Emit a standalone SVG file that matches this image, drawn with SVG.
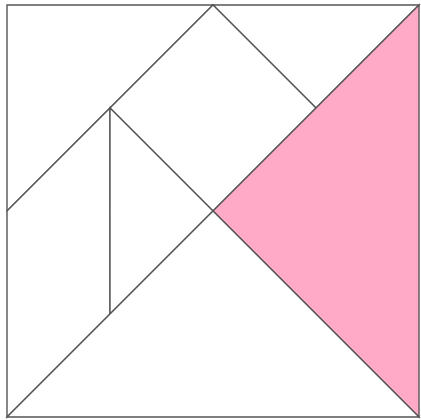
<svg xmlns="http://www.w3.org/2000/svg" width="421" height="420" viewBox="0 0 421 420">
<style>
.p{fill:#fff;stroke:#555;stroke-width:1.4;stroke-linejoin:miter}
.pink{fill:#ffabc8}
</style>
<rect x="0" y="0" width="421" height="420" fill="#fff"/>
<g id="tri-top-left"><polygon class="p" points="7,5 213,5 7,211"/></g>
<g id="tri-small-top"><polygon class="p" points="213,5 419,5 316,108"/></g>
<g id="square"><polygon class="p" points="213,5 316,108 213,211 110,108"/></g>
<g id="parallelogram"><polygon class="p" points="7,211 110,108 110,314 7,417"/></g>
<g id="tri-small-mid"><polygon class="p" points="110,108 213,211 110,314"/></g>
<g id="tri-pink"><polygon class="p pink" points="419,5 419,417 213,211"/></g>
<g id="tri-bottom"><polygon class="p" points="7,417 213,211 419,417"/></g>
<g id="connectors"></g>
</svg>
